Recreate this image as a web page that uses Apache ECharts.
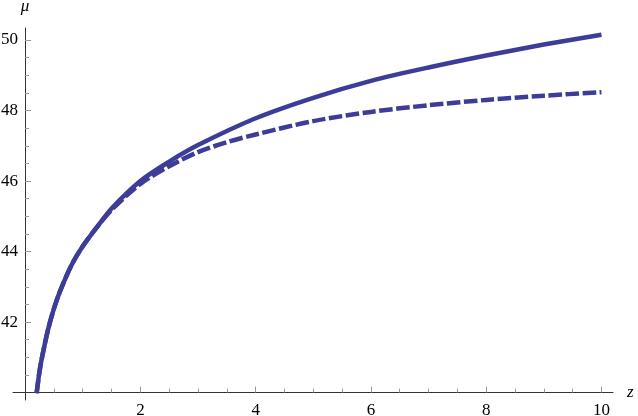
<!DOCTYPE html>
<html>
<head>
<meta charset="utf-8">
<script src="https://cdn.jsdelivr.net/npm/echarts@6/dist/echarts.min.js"></script>
<style>
  html, body { margin: 0; padding: 0; background: #fff; }
  #chart { width: 638px; height: 416px; }
</style>
</head>
<body>
<div id="chart"></div>
<script>
// values
const zSolid = [0.2, 0.25, 0.3, 0.4, 0.5, 0.6, 0.8, 1, 1.25, 1.5, 2, 2.5, 3, 4, 5, 6, 7, 8, 9, 10]
const muSolid = [39.98, 40.6, 41.05, 41.8, 42.38, 42.85, 43.6, 44.15, 44.7, 45.22, 46.0, 46.55, 47.02, 47.78, 48.36, 48.84, 49.22, 49.56, 49.87, 50.15]
const zDashed = [0.2, 0.25, 0.3, 0.4, 0.5, 0.6, 0.8, 1, 1.25, 1.5, 2, 2.5, 3, 3.5, 4, 5, 6, 7, 8, 9, 10]
const muDashed = [39.98, 40.6, 41.05, 41.8, 42.38, 42.85, 43.6, 44.15, 44.7, 45.18, 45.92, 46.42, 46.82, 47.1, 47.32, 47.7, 47.96, 48.15, 48.3, 48.42, 48.52]

const xMajor = [2, 4, 6, 8, 10]
const xMinor = [0.5, 1, 1.5, 2.5, 3, 3.5, 4.5, 5, 5.5, 6.5, 7, 7.5, 8.5, 9, 9.5]
const yMajor = [42, 44, 46, 48, 50]
const yMinor = [40.5, 41, 41.5, 42.5, 43, 43.5, 44.5, 45, 45.5, 46.5, 47, 47.5, 48.5, 49, 49.5]

const xMin = -0.21
const xMax = 10.2
const yMin = 39.79
const yMax = 50.34
const xCross = 0  // y axis sits at z = 0
const yCross = 40 // x axis sits at mu = 40

const grid = { left: 13, right: 25, top: 28, bottom: 16, outerBoundsMode: 'none' }
const plotW = 638 - grid.left - grid.right
const plotH = 416 - grid.top - grid.bottom
const xOffset = -(yCross - yMin) / (yMax - yMin) * plotH
const yOffset = -(xCross - xMin) / (xMax - xMin) * plotW

const lineColor = '#3d3d99'
const font = '"Liberation Serif", "Times New Roman", Times, serif'

const pairs = (xs, ys) => xs.map((x, i) => [x, ys[i]])

const chart = echarts.init(document.getElementById('chart'))
chart.setOption({
  animation: false,
  grid: grid,
  xAxis: [
    {
      type: 'value',
      position: 'bottom',
      min: xMin,
      max: xMax,
      offset: xOffset,
      name: 'z',
      nameLocation: 'end',
      nameGap: 14,
      nameTextStyle: { fontFamily: font, fontStyle: 'italic', fontSize: 17, color: '#000' },
      axisLine: { onZero: false, lineStyle: { color: '#333', width: 1 } },
      axisTick: { inside: true, length: 6, customValues: xMajor, lineStyle: { color: '#999' } },
      axisLabel: { customValues: xMajor, margin: 9, fontFamily: font, fontSize: 17, color: '#000' },
      splitLine: { show: false }
    },
    {
      type: 'value',
      position: 'bottom',
      min: xMin,
      max: xMax,
      offset: xOffset,
      axisLine: { show: false, onZero: false },
      axisTick: { inside: true, length: 4, customValues: xMinor, lineStyle: { color: '#999' } },
      axisLabel: { show: false },
      splitLine: { show: false }
    }
  ],
  yAxis: [
    {
      type: 'value',
      position: 'left',
      min: yMin,
      max: yMax,
      offset: yOffset,
      name: 'μ',
      nameLocation: 'end',
      nameGap: 13,
      nameTextStyle: { fontFamily: font, fontStyle: 'italic', fontSize: 17, color: '#000', align: 'center' },
      axisLine: { onZero: false, lineStyle: { color: '#333', width: 1 } },
      axisTick: { inside: true, length: 6, customValues: yMajor, lineStyle: { color: '#999' } },
      axisLabel: { customValues: yMajor, margin: 7, fontFamily: font, fontSize: 17, color: '#000' },
      splitLine: { show: false }
    },
    {
      type: 'value',
      position: 'left',
      min: yMin,
      max: yMax,
      offset: yOffset,
      axisLine: { show: false, onZero: false },
      axisTick: { inside: true, length: 4, customValues: yMinor, lineStyle: { color: '#999' } },
      axisLabel: { show: false },
      splitLine: { show: false }
    }
  ],
  series: [
    {
      type: 'line',
      data: pairs(zSolid, muSolid),
      smooth: 0.3,
      showSymbol: false,
      lineStyle: { color: lineColor, width: 4.5 }
    },
    {
      type: 'line',
      data: pairs(zDashed, muDashed),
      smooth: 0.3,
      showSymbol: false,
      lineStyle: { color: lineColor, width: 4.5, type: [13.5, 3.5], cap: 'butt' }
    }
  ]
})
</script>
</body>
</html>
